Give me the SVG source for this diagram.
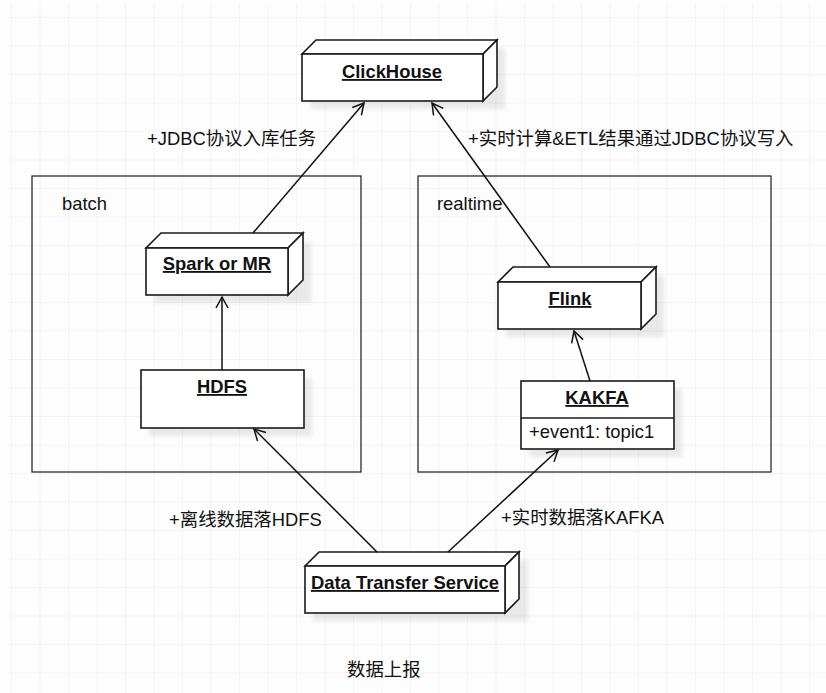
<svg xmlns="http://www.w3.org/2000/svg" width="826" height="693" viewBox="0 0 826 693">
<defs>
<pattern id="grid" x="11" y="17" width="28.5" height="28.5" patternUnits="userSpaceOnUse">
<path d="M0,0 V28.5 M0,0 H28.5" fill="none" stroke="#ececec" stroke-width="1"/>
</pattern>
<filter id="sh" x="-20%" y="-20%" width="150%" height="150%">
<feGaussianBlur stdDeviation="2"/>
</filter>
<marker id="open" markerWidth="14" markerHeight="14" refX="12" refY="7" orient="auto" markerUnits="userSpaceOnUse">
<path d="M1,1 L12,7 L1,13" fill="none" stroke="#111" stroke-width="1.5"/>
</marker>
</defs>
<style>
.box{fill:#fff;stroke:#1a1a1a;stroke-width:1.6;stroke-linejoin:miter}
.shadow{fill:#000;opacity:0.08;filter:url(#sh)}
.cont{fill:none;stroke:#1a1a1a;stroke-width:1.2}
.title{font-family:"Liberation Sans","Noto Sans CJK SC",sans-serif;font-size:18.4px;font-weight:bold;text-decoration:underline;fill:#111;text-anchor:middle}
.lbl{font-family:"Liberation Sans","Noto Sans CJK SC",sans-serif;font-size:18.4px;fill:#111}
.conn{fill:none;stroke:#111;stroke-width:1.5;marker-end:url(#open)}
</style>
<rect x="0" y="0" width="826" height="693" fill="#fdfdfd"/>
<rect x="7" y="3" width="819" height="690" fill="url(#grid)"/>

<g id="batch">
<rect class="cont" x="32" y="176" width="329" height="296"/>
<text class="lbl" x="62" y="210">batch</text>
</g>
<g id="realtime">
<rect class="cont" x="418" y="176" width="353" height="296"/>
<text class="lbl" x="437" y="210">realtime</text>
</g>

<g id="clickhouse">
<rect class="shadow" x="310" y="48" width="195" height="61"/>
<path class="box" d="M302,54 L316,40 L497,40 L483,54 Z"/>
<path class="box" d="M483,54 L497,40 L497,87 L483,101 Z"/>
<rect class="box" x="302" y="54" width="181" height="47"/>
<text class="title" x="392" y="78">ClickHouse</text>
</g>

<g id="spark">
<rect class="shadow" x="154" y="242" width="157" height="61"/>
<path class="box" d="M146,248 L161,233 L303,233 L288,248 Z"/>
<path class="box" d="M288,248 L303,233 L303,280 L288,295 Z"/>
<rect class="box" x="146" y="248" width="142" height="47"/>
<text class="title" x="217" y="270">Spark or MR</text>
</g>

<g id="hdfs">
<rect class="shadow" x="149" y="378" width="163" height="58"/>
<rect class="box" x="141" y="370" width="163" height="58"/>
<text class="title" x="222" y="393">HDFS</text>
</g>

<g id="flink">
<rect class="shadow" x="506" y="276" width="158" height="61"/>
<path class="box" d="M498,282 L513,267 L656,267 L641,282 Z"/>
<path class="box" d="M641,282 L656,267 L656,314 L641,329 Z"/>
<rect class="box" x="498" y="282" width="143" height="47"/>
<text class="title" x="570" y="305">Flink</text>
</g>

<g id="kakfa">
<rect class="shadow" x="529" y="389" width="153" height="68"/>
<rect class="box" x="521" y="381" width="153" height="68"/>
<line x1="521" y1="418" x2="674" y2="418" stroke="#1a1a1a" stroke-width="1.6"/>
<text class="title" x="597" y="404">KAKFA</text>
<text class="lbl" x="529" y="438">+event1: topic1</text>
</g>

<g id="dts">
<rect class="shadow" x="313" y="560" width="215" height="61"/>
<path class="box" d="M305,566 L319,552 L519,552 L505,566 Z"/>
<path class="box" d="M505,566 L519,552 L519,599 L505,613 Z"/>
<rect class="box" x="305" y="566" width="200" height="47"/>
<text class="title" x="405" y="589">Data Transfer Service</text>
</g>

<g id="connectors">
<line class="conn" x1="253" y1="233" x2="364" y2="103"/>
<line class="conn" x1="550" y1="267" x2="432" y2="103"/>
<line class="conn" x1="222" y1="370" x2="222" y2="297"/>
<line class="conn" x1="590" y1="381" x2="574" y2="331"/>
<line class="conn" x1="377" y1="552" x2="254" y2="429"/>
<line class="conn" x1="448" y1="552" x2="558" y2="450"/>
</g>

<g id="labels">
<text class="lbl" x="147" y="145">+JDBC协议入库任务</text>
<text class="lbl" x="468" y="145">+实时计算&amp;ETL结果通过JDBC协议写入</text>
<text class="lbl" x="169" y="526">+离线数据落HDFS</text>
<text class="lbl" x="501" y="524">+实时数据落KAFKA</text>
<text class="lbl" x="347" y="676">数据上报</text>
</g>
</svg>
